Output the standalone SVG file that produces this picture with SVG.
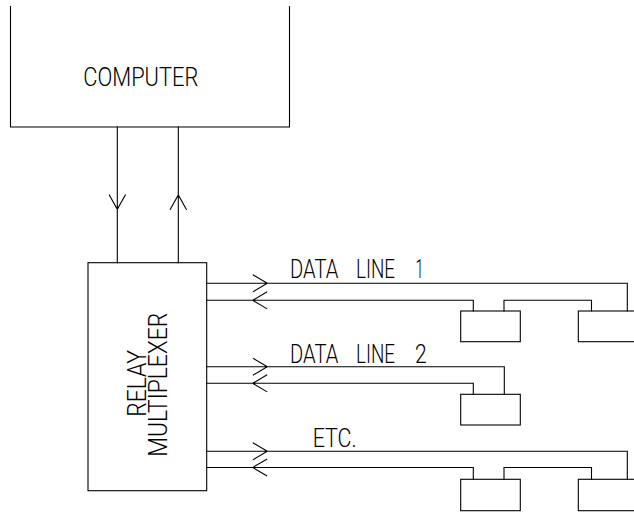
<svg xmlns="http://www.w3.org/2000/svg" width="634" height="512" viewBox="0 0 634 512">
<style>
.l{fill:none;stroke:#000;stroke-width:1.1;stroke-linecap:square}
.t{font-family:Roboto,"Liberation Sans",sans-serif;font-weight:300;font-size:25.5px;fill:#000}
</style>
<rect width="634" height="512" fill="#fff"/>
<g id="computer">
<path class="l" d="M10.5,6.5 V127 H289.5 V6.5"/>
<text class="t" x="83.3" y="85.7" textLength="115" lengthAdjust="spacingAndGlyphs">COMPUTER</text>
</g>
<g id="relay-multiplexer">
<rect class="l" x="88" y="262.7" width="118.7" height="228"/>
<text class="t" transform="translate(146,416.7) rotate(-90)" textLength="66.7" lengthAdjust="spacingAndGlyphs">RELAY</text>
<text class="t" transform="translate(166.7,456.7) rotate(-90)" textLength="144" lengthAdjust="spacingAndGlyphs">MULTIPLEXER</text>
</g>
<g id="line1-box1"><rect class="l" x="460.7" y="311" width="59.6" height="30.7"/></g>
<g id="line1-box2"><rect class="l" x="578.3" y="311" width="60" height="30.7"/></g>
<g id="line2-box1"><rect class="l" x="460.7" y="394.3" width="59.6" height="30.7"/></g>
<g id="etc-box1"><rect class="l" x="460.7" y="479.3" width="59.6" height="31.4"/></g>
<g id="etc-box2"><rect class="l" x="578.3" y="479.3" width="60" height="31.4"/></g>
<g id="labels">
<text class="t" y="277.5"><tspan x="290" textLength="48.3" lengthAdjust="spacingAndGlyphs">DATA</tspan><tspan x="356" textLength="39" lengthAdjust="spacingAndGlyphs">LINE</tspan><tspan x="415.5" textLength="8" lengthAdjust="spacingAndGlyphs">1</tspan></text>
<text class="t" y="362.7"><tspan x="290" textLength="48.3" lengthAdjust="spacingAndGlyphs">DATA</tspan><tspan x="356" textLength="39" lengthAdjust="spacingAndGlyphs">LINE</tspan><tspan x="415" textLength="11.7" lengthAdjust="spacingAndGlyphs">2</tspan></text>
<text class="t" x="312.7" y="446.7" textLength="44" lengthAdjust="spacingAndGlyphs">ETC.</text>
</g>
<g id="connectors">
<path class="l" d="M117.3,127 V262.7 M109.3,195 L117.3,209.3 L125.3,195"/>
<path class="l" d="M178.3,127 V262.7 M170.3,209.3 L178.3,195 L186.3,209.3"/>
<path class="l" d="M206.7,283.3 H627.3 V311 M253.3,275 L267.3,283.3 L253.3,291.6"/>
<path class="l" d="M206.7,300.3 H473.3 V311 M266.7,292 L252.7,300.3 L266.7,308.6"/>
<path class="l" d="M504,311 V300.3 H591.5 V311"/>
<path class="l" d="M206.7,366.7 H504.3 V394.3 M253.3,358.4 L267.3,366.7 L253.3,375"/>
<path class="l" d="M206.7,383.3 H473.3 V394.3 M266.7,375 L252.7,383.3 L266.7,391.6"/>
<path class="l" d="M206.7,451.3 H627.3 V479.3 M253.3,443 L267.3,451.3 L253.3,459.6"/>
<path class="l" d="M206.7,467.5 H473.3 V479.3 M266.7,459.2 L252.7,467.5 L266.7,475.8"/>
<path class="l" d="M504,479.3 V467.5 H591.5 V479.3"/>
</g>
</svg>
